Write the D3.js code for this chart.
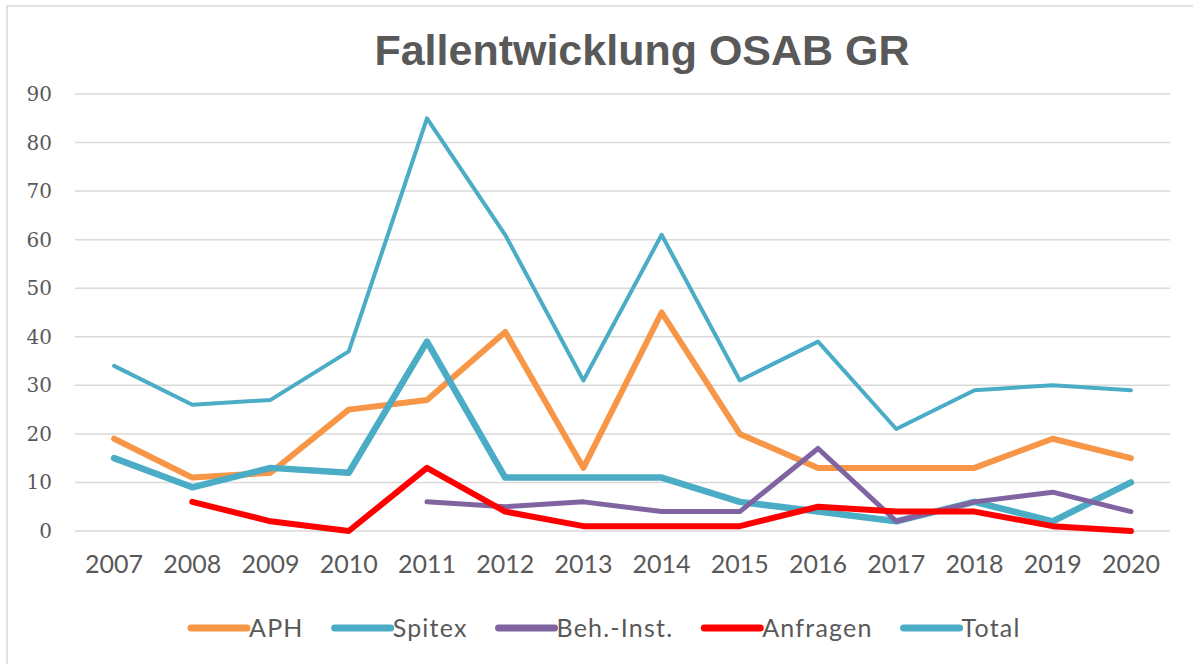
<!DOCTYPE html>
<html>
<head>
<meta charset="utf-8">
<script src="https://cdn.jsdelivr.net/npm/d3@7"></script>
<style>
  body { margin: 0; background: #fff; }
</style>
</head>
<body>
<svg id="chart" width="1193" height="664"></svg>
<script>
// chart data
var years = ["2007","2008","2009","2010","2011","2012","2013","2014","2015","2016","2017","2018","2019","2020"];
var aph      = [19, 11, 12, 25, 27, 41, 13, 45, 20, 13, 13, 13, 19, 15];
var spitex   = [15,  9, 13, 12, 39, 11, 11, 11,  6,  4,  2,  6,  2, 10];
var behInst  = [null, null, null, null, 6, 5, 6, 4, 4, 17, 2, 6, 8, 4];
var anfragen = [null, 6, 2, 0, 13, 4, 1, 1, 1, 5, 4, 4, 1, 0];
var total    = [34, 26, 27, 37, 85, 61, 31, 61, 31, 39, 21, 29, 30, 29];
var yTicks   = [0, 10, 20, 30, 40, 50, 60, 70, 80, 90];

var series = [
  {name: "APH",         values: aph,      color: "#F79646", w: 6},
  {name: "Spitex",      values: spitex,   color: "#4BACC6", w: 6.5},
  {name: "Beh.-Inst.",  values: behInst,  color: "#8064A2", w: 5},
  {name: "Anfragen",    values: anfragen, color: "#FF0000", w: 6},
  {name: "Total",       values: total,    color: "#4BACC6", w: 4}
];

var svg = d3.select("#chart");
var plotLeft = 75, plotRight = 1170, plotTop = 94, plotBottom = 531;

// chart border
svg.append("rect")
  .attr("x", 7).attr("y", 6)
  .attr("width", 1300).attr("height", 700)
  .attr("fill", "none")
  .attr("stroke", "#d9d9d9")
  .attr("stroke-width", 1.5);

// title
svg.append("text")
  .text("Fallentwicklung OSAB GR")
  .attr("x", 642).attr("y", 65)
  .attr("fill", "#595959")
  .style("text-anchor", "middle")
  .style("font-family", "'Liberation Sans', Arial, sans-serif")
  .style("font-weight", "bold")
  .style("font-size", "43px");

var x = d3.scaleBand().domain(years).range([plotLeft, plotRight]);
var y = d3.scaleLinear().domain([0, 90]).range([plotBottom, plotTop]);

// gridlines
svg.selectAll(".grid").data(yTicks)
  .enter()
  .append("line")
    .attr("class", "grid")
    .attr("x1", plotLeft).attr("x2", plotRight)
    .attr("y1", d => y(d)).attr("y2", d => y(d))
    .style("stroke", "#d9d9d9")
    .style("stroke-width", 1.5);

// y labels
svg.selectAll(".ylab").data(yTicks)
  .enter()
  .append("text")
    .attr("class", "ylab")
    .attr("x", 52)
    .attr("y", d => y(d))
    .attr("dy", "0.35em")
    .text(d => d)
    .attr("fill", "#595959")
    .style("text-anchor", "end")
    .style("font-family", "'DejaVu Serif', serif")
    .style("font-size", "20px");

// x labels
svg.selectAll(".xlab").data(years)
  .enter()
  .append("text")
    .attr("class", "xlab")
    .attr("x", d => x(d) + x.bandwidth() / 2)
    .attr("y", 573)
    .text(d => d)
    .attr("fill", "#595959")
    .style("text-anchor", "middle")
    .style("font-family", "Lato, sans-serif")
    .style("font-size", "25px");

// lines
var line = d3.line()
  .defined(d => d != null)
  .x((d, i) => x(years[i]) + x.bandwidth() / 2)
  .y(d => y(d));

series.forEach(function(s){
  svg.append("path")
    .datum(s.values)
    .attr("d", line)
    .style("fill", "none")
    .style("stroke", s.color)
    .style("stroke-width", s.w)
    .style("stroke-linecap", "round")
    .style("stroke-linejoin", "round");
});

// legend
var lx = 191, ly = 628;
series.forEach(function(s){
  var g = svg.append("g").attr("transform", "translate(" + lx + "," + ly + ")");
  g.append("line")
    .attr("x1", 0).attr("x2", 56)
    .attr("y1", 0).attr("y2", 0)
    .style("stroke", s.color)
    .style("stroke-width", 7)
    .style("stroke-linecap", "round");
  var t = g.append("text")
    .text(s.name)
    .attr("x", 58)
    .attr("dy", "0.36em")
    .attr("fill", "#595959")
    .style("font-family", "Lato, sans-serif")
    .style("letter-spacing", "1.2px")
    .style("font-size", "25px");
  lx += 58 + t.node().getComputedTextLength() + 31;
});
</script>
</body>
</html>
